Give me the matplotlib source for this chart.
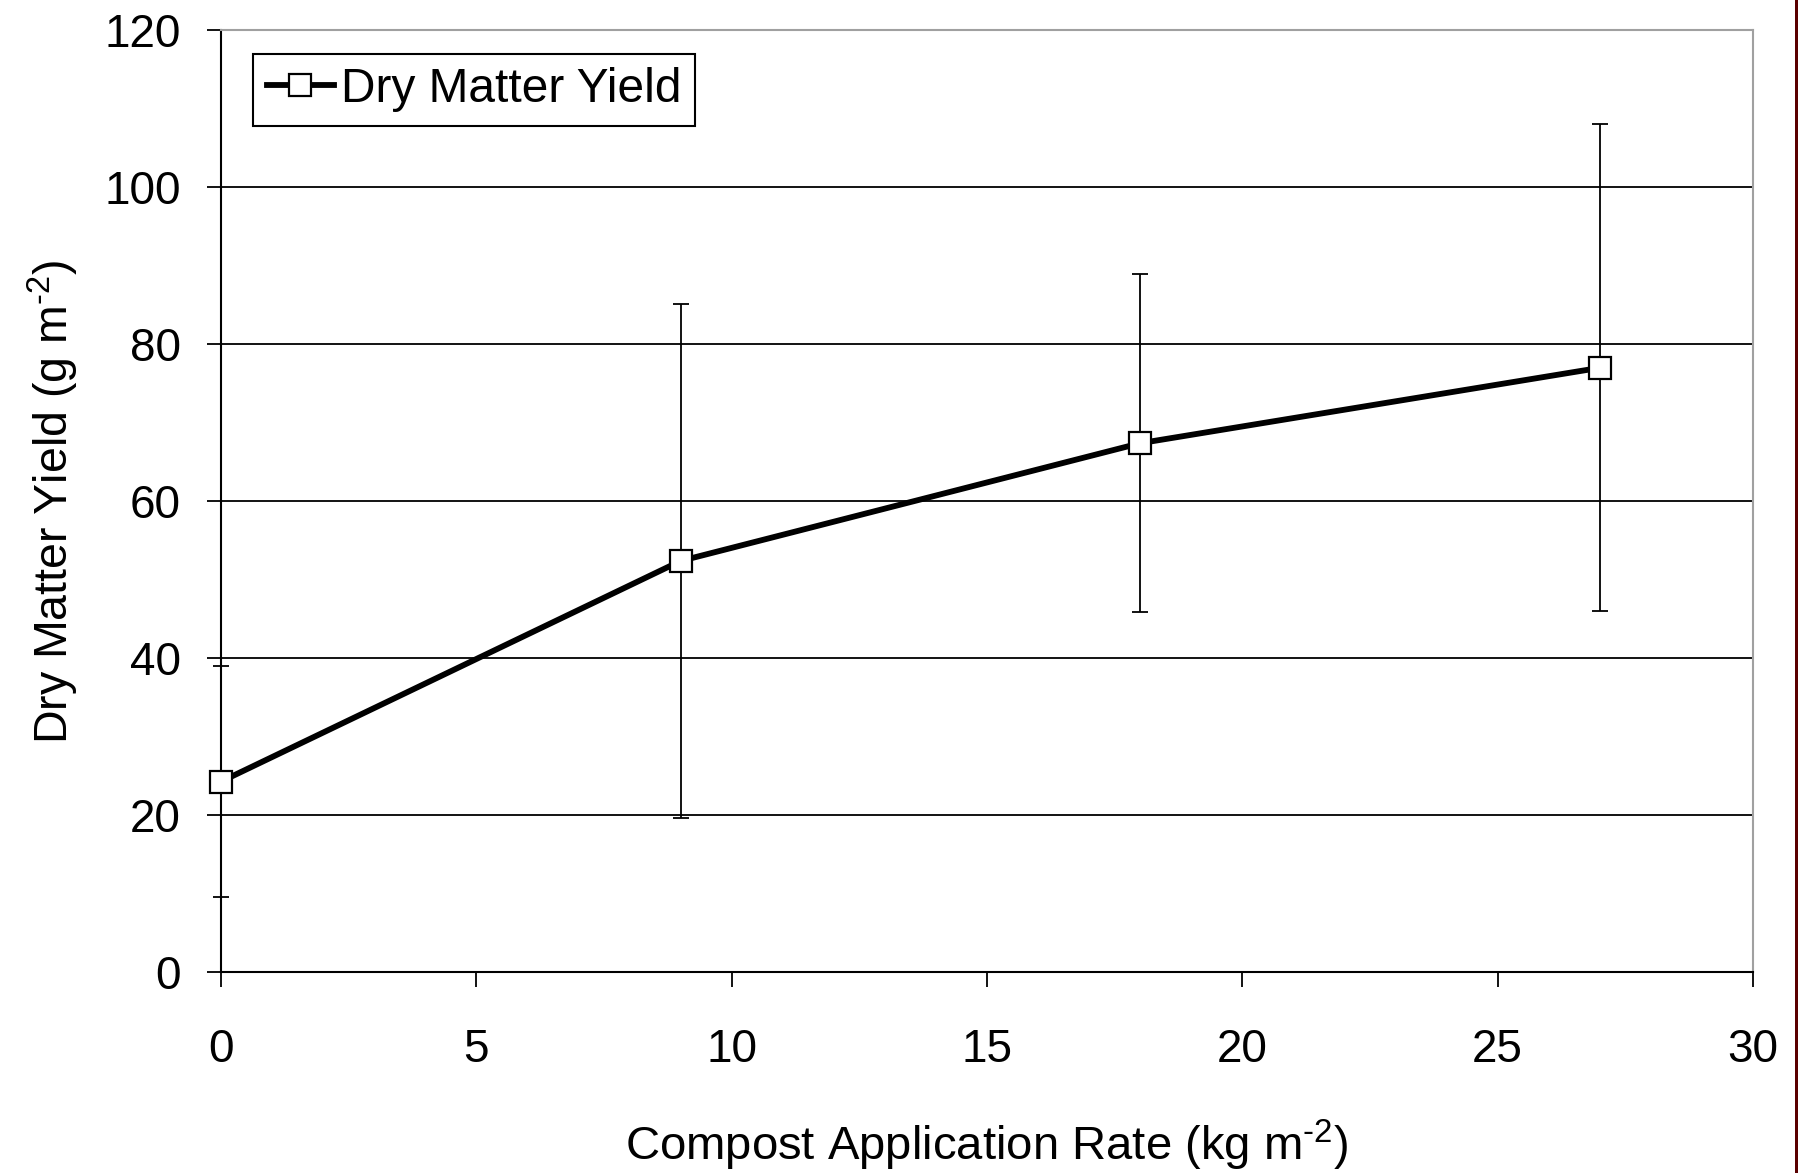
import matplotlib
matplotlib.use('Agg')
import matplotlib.pyplot as plt
from matplotlib.patches import Rectangle

# compost rate (kg m-2), mean dry matter yield (g m-2) and error bar half-widths
rate = [0, 9, 18, 27]
yield_mean = [24.3, 52.4, 67.4, 77.0]
yield_err = [14.7, 32.7, 21.5, 31.0]

xticks = [0, 5, 10, 15, 20, 25, 30]
yticks = [0, 20, 40, 60, 80, 100, 120]

plt.rcParams['font.family'] = ['Liberation Sans', 'DejaVu Sans']
plt.rcParams['mathtext.fontset'] = 'custom'
plt.rcParams['mathtext.rm'] = 'Liberation Sans'
plt.rcParams['mathtext.it'] = 'Liberation Sans'


def main():
    fig = plt.figure(figsize=(17.99, 11.73), dpi=100)
    ax = fig.add_axes([0.1229, 0.1711, 0.9744 - 0.1229, 0.9742 - 0.1711])

    ax.errorbar(rate, yield_mean, yerr=yield_err, fmt='none', ecolor='black',
                elinewidth=1.3, capsize=5.5, capthick=1.3, zorder=3, clip_on=False)
    ax.plot(rate, yield_mean, color='black', lw=4.2, marker='s', ms=16,
            mfc='white', mec='black', mew=1.6, label='Dry Matter Yield',
            zorder=4, clip_on=False)

    ax.set_xlim(0, 30)
    ax.set_ylim(0, 120)
    ax.set_xticks(xticks)
    ax.set_yticks(yticks)
    ax.yaxis.grid(True, color='black', lw=1.3)
    ax.set_axisbelow(True)

    for s in ['top', 'right']:
        ax.spines[s].set_color('#a0a0a0')
        ax.spines[s].set_linewidth(1.5)
    for s in ['left', 'bottom']:
        ax.spines[s].set_color('black')
        ax.spines[s].set_linewidth(1.5)
    ax.tick_params(axis='x', direction='out', length=11, width=1.3, pad=29, labelsize=33)
    ax.tick_params(axis='y', direction='out', length=10, width=1.3, pad=19, labelsize=33)

    ax.set_xlabel(r'Compost Application Rate (kg m$^{\text{-}2}$)', fontsize=34, labelpad=33)
    ax.set_ylabel(r'Dry Matter Yield (g m$^{\text{-}2}$)', fontsize=33.5, labelpad=17)

    leg = ax.legend(loc='upper left', bbox_to_anchor=(0.021, 0.975), fontsize=34.5,
                    fancybox=False, framealpha=1, edgecolor='black',
                    handlelength=1.4, handletextpad=0.15, borderpad=0.28,
                    borderaxespad=0)
    leg.get_frame().set_linewidth(1.5)

    # dark strip along the right edge
    fig.add_artist(Rectangle((0.9978, 0), 0.0022, 1, transform=fig.transFigure,
                             facecolor='#5a0000', edgecolor='none', zorder=10))

    fig.savefig('out.png', dpi=100)


if __name__ == '__main__':
    main()
